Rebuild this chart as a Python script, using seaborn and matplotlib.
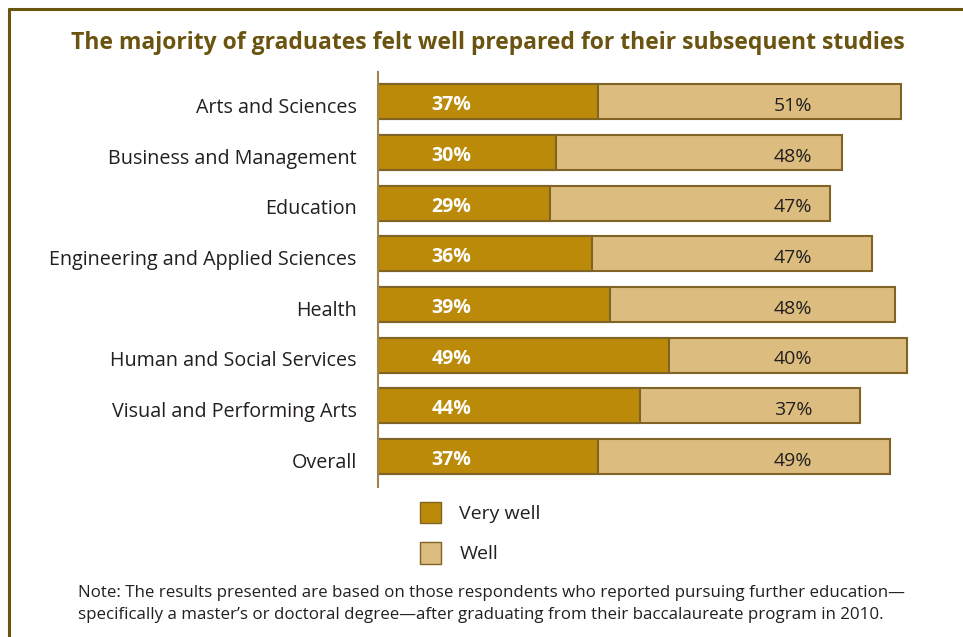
import matplotlib
matplotlib.use("Agg")
import matplotlib.pyplot as plt
import matplotlib.transforms as mtransforms
import seaborn as sns
import pandas as pd
from matplotlib.patches import Patch
from matplotlib.lines import Line2D

categories = [
    "Arts and Sciences",
    "Business and Management",
    "Education",
    "Engineering and Applied Sciences",
    "Health",
    "Human and Social Services",
    "Visual and Performing Arts",
    "Overall",
]
very_well = [37, 30, 29, 36, 39, 49, 44, 37]
well = [51, 48, 47, 47, 48, 40, 37, 49]

title = "The majority of graduates felt well prepared for their subsequent studies"
note = ("Note: The results presented are based on those respondents who reported pursuing further education\u2014\n"
        "specifically a master\u2019s or doctoral degree\u2014after graduating from their baccalaureate program in 2010.")

DARK = "#BB8A08"
LIGHT = "#DCBD7F"
EDGE = "#806425"
OLIVE = "#6B5410"
TEXT = "#231F20"

sns.set_theme(style="white")
plt.rcParams["font.family"] = ["Open Sans", "DejaVu Sans"]

df = pd.DataFrame({"category": categories, "very_well": very_well, "well": well})
df["total"] = df["very_well"] + df["well"]

W, H = 963, 637
fig = plt.figure(figsize=(W / 100, H / 100), dpi=100)
ax = fig.add_axes([378 / W, 1 - 487 / H, 571 / W, (487 - 72) / H])

# stacked bars: full total in light, "very well" share in dark on top
sns.barplot(data=df, y="category", x="total", color=LIGHT, orient="h",
            width=0.69, edgecolor=EDGE, linewidth=1.5, saturation=1, ax=ax)
sns.barplot(data=df, y="category", x="very_well", color=DARK, orient="h",
            width=0.69, edgecolor=EDGE, linewidth=1.5, saturation=1, ax=ax)

ax.set_xlim(0, 96)
ax.set_ylim(7.6, -0.59)
ax.set_xlabel("")
ax.set_ylabel("")
ax.set_xticks([])
for side in ["top", "right", "bottom"]:
    ax.spines[side].set_visible(False)
ax.spines["left"].set_color("#9C8550")
ax.spines["left"].set_linewidth(1.5)
ax.tick_params(axis="y", length=0, pad=21, labelsize=14.2, labelcolor=TEXT)
shift = mtransforms.ScaledTranslation(8 / 100, -3.5 / 100, fig.dpi_scale_trans)
for lbl in ax.get_yticklabels():
    lbl.set_transform(lbl.get_transform() + shift)

for i, (v, w) in enumerate(zip(very_well, well)):
    ax.text(12.3, i + 0.07, f"{v}%", ha="center", va="center", color="white",
            fontsize=14, fontweight="bold")
    ax.text(69.8, i + 0.08, f"{w}%", ha="center", va="center", color=TEXT, fontsize=14)

fig.text(488 / W, 1 - 43 / H, title, ha="center", va="center", color=OLIVE,
         fontsize=16.5, fontweight="bold")

handles = [Patch(facecolor=DARK, edgecolor=EDGE, label="Very well"),
           Patch(facecolor=LIGHT, edgecolor=EDGE, label="Well")]
fig.legend(handles=handles, loc="upper left", bbox_to_anchor=(402 / W, 1 - 484 / H),
           frameon=False, fontsize=14, handlelength=1.1, handleheight=1.35,
           labelspacing=0.95, handletextpad=0.95, labelcolor=TEXT)

fig.text(78 / W, 1 - 604 / H, note, ha="left", va="center", color=TEXT,
         fontsize=12.2, linespacing=1.45)

# outer frame along the left and top edges
fig.add_artist(Line2D([8.5 / W, 8.5 / W], [0, 1 - 8.5 / H], transform=fig.transFigure,
                      color=OLIVE, linewidth=2.2))
fig.add_artist(Line2D([8.5 / W, 1], [1 - 8.5 / H, 1 - 8.5 / H], transform=fig.transFigure,
                      color=OLIVE, linewidth=2.2))

fig.savefig("out.png", dpi=100, facecolor="white")
